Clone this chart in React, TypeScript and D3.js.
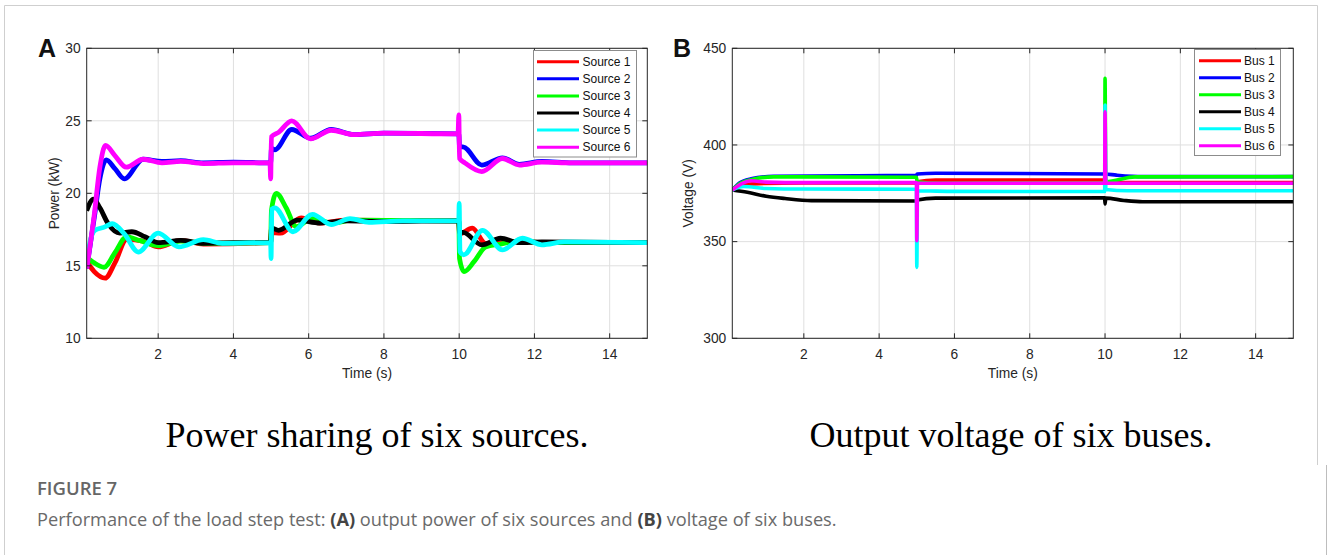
import React from 'react';
import * as d3 from 'd3';

type Pt = [number, number];

const xTicks = [2, 4, 6, 8, 10, 12, 14];
const powerTicks = [10, 15, 20, 25, 30];
const voltTicks = [300, 350, 400, 450];
const colors = ['#ff0000', '#0000ff', '#00ff00', '#000000', '#00ffff', '#ff00ff'];
const sourceNames = ['Source 1', 'Source 2', 'Source 3', 'Source 4', 'Source 5', 'Source 6'];
const busNames = ['Bus 1', 'Bus 2', 'Bus 3', 'Bus 4', 'Bus 5', 'Bus 6'];

// panel A, power (kW) vs time (s)
const source1: Pt[] = [
  [0.1, 15.3], [0.3, 14.6], [0.59, 14.15], [0.85, 15.2], [1.16, 16.8], [1.6, 16.7],
  [2.0, 16.3], [2.6, 16.75], [3.2, 16.5], [4.99, 16.6], [5.01, 17.3], [5.25, 17.25],
  [5.8, 18.3], [6.3, 17.95], [7, 18.15], [9.99, 18.1], [10.01, 17.2], [10.35, 17.6],
  [10.7, 16.55], [11.1, 16.6], [11.6, 16.7], [12.2, 16.6], [15, 16.6],
];
const source2: Pt[] = [
  [0.1, 14.8], [0.3, 18.3], [0.45, 21.0], [0.62, 22.3], [0.85, 21.7], [1.1, 21.0],
  [1.6, 22.35], [2.1, 22.2], [2.6, 22.25], [3.2, 22.1], [4, 22.15], [4.99, 22.1],
  [5.01, 23.1], [5.1, 23.0], [5.55, 24.4], [6.05, 23.8], [6.6, 24.4], [7.2, 24.05],
  [8, 24.15], [9.99, 24.1], [10.01, 23.2], [10.1, 23.2], [10.6, 21.95], [11.15, 22.45],
  [11.6, 22.0], [12.2, 22.2], [13, 22.1], [15, 22.1],
];
const source3: Pt[] = [
  [0.1, 15.6], [0.3, 15.2], [0.56, 14.9], [0.85, 15.9], [1.16, 17.0], [1.5, 16.75],
  [2.0, 16.4], [2.6, 16.7], [3.2, 16.55], [4.99, 16.6], [5.01, 18.8], [5.14, 20.0],
  [5.4, 19.0], [5.67, 17.7], [6.1, 18.3], [6.6, 17.95], [7.2, 18.15], [9.99, 18.1],
  [10.01, 15.5], [10.13, 14.6], [10.4, 15.3], [10.7, 16.3], [11.1, 16.5], [11.6, 16.7],
  [12.2, 16.6], [15, 16.6],
];
const source4: Pt[] = [
  [0.1, 18.8], [0.28, 19.6], [0.45, 19.0], [0.67, 17.9], [0.98, 17.25], [1.3, 17.35],
  [1.65, 17.0], [2.0, 16.6], [2.6, 16.75], [3.2, 16.55], [4, 16.6], [4.99, 16.6],
  [5.01, 17.6], [5.2, 17.45], [5.7, 18.15], [6.3, 17.95], [7, 18.1], [8, 18.05],
  [9.99, 18.1], [10.01, 17.3], [10.1, 17.3], [10.6, 16.45], [11.1, 16.9], [11.6, 16.6],
  [12.2, 16.65], [15, 16.6],
];
const source5: Pt[] = [
  [0.1, 15.0], [0.2, 16.8], [0.32, 17.45], [0.55, 17.65], [0.78, 17.9], [1.1, 17.2],
  [1.47, 15.95], [2.0, 17.25], [2.55, 16.3], [3.2, 16.8], [3.7, 16.55], [4.99, 16.6],
  [5.0, 15.5], [5.02, 18.9], [5.1, 19.0], [5.58, 17.35], [6.1, 18.55], [6.6, 17.85],
  [7.1, 18.25], [7.6, 18.0], [8.5, 18.1], [9.99, 18.1], [10.0, 19.3], [10.02, 16.0],
  [10.12, 15.75], [10.62, 17.45], [11.15, 16.1], [11.68, 16.9], [12.2, 16.45],
  [12.8, 16.65], [15, 16.6],
];
const source6: Pt[] = [
  [0.1, 14.8], [0.3, 18.5], [0.45, 21.8], [0.6, 23.3], [0.85, 22.6], [1.15, 21.8],
  [1.6, 22.35], [2.1, 22.1], [2.6, 22.2], [3.2, 22.05], [4, 22.1], [4.97, 22.1],
  [4.99, 21.0], [5.01, 23.9], [5.2, 24.2], [5.55, 25.0], [6.05, 23.75], [6.6, 24.35],
  [7.2, 24.05], [8, 24.15], [9.97, 24.1], [9.99, 25.4], [10.01, 22.4], [10.15, 22.1],
  [10.6, 21.5], [11.15, 22.4], [11.6, 21.95], [12.2, 22.15], [13, 22.1], [15, 22.1],
];

// panel B, bus voltage (V) vs time (s)
const bus1: Pt[] = [
  [0.1, 376.7], [0.4, 379.5], [0.8, 380.0], [2, 380.3], [4.99, 380.3], [5.01, 381.0],
  [5.5, 381.8], [9.99, 381.9], [10.01, 381.0], [10.6, 380.5], [15, 380.5],
];
const bus2: Pt[] = [
  [0.1, 376.7], [0.3, 380.5], [0.6, 382.5], [1.2, 383.8], [4.99, 384.3], [5.01, 385.0],
  [5.5, 385.4], [9.99, 385.0], [10.3, 384.4], [11, 383.6], [15, 383.6],
];
const bus3: Pt[] = [
  [0.1, 376.7], [0.3, 380], [0.7, 382.5], [1.2, 383.5], [4.99, 383.3], [5.01, 381.0],
  [5.6, 380.2], [9.99, 380.2], [10.0, 434.5], [10.02, 381.0], [10.8, 383.5], [15, 383.6],
];
const bus4: Pt[] = [
  [0.1, 376.7], [0.5, 375.5], [1.0, 373.5], [1.5, 372.3], [2.2, 371.2], [4.99, 371.0],
  [5.01, 371.5], [5.5, 372.5], [9.99, 372.7], [10.0, 369.5], [10.02, 372.5],
  [10.5, 371.3], [11, 370.6], [15, 370.6],
];
const bus5: Pt[] = [
  [0.1, 376.7], [0.4, 378.5], [1.0, 377.5], [2, 377.2], [4.99, 377.1], [5.0, 336.7],
  [5.02, 376.3], [6, 376.0], [9.99, 375.9], [10.0, 420.7], [10.02, 377], [10.6, 376.3],
  [15, 376.3],
];
const bus6: Pt[] = [
  [0.1, 376.7], [0.35, 380], [0.6, 381.5], [1.0, 380.8], [2, 380.5], [4.99, 380.5],
  [5.0, 350.5], [5.02, 380.2], [9.99, 380.2], [10.0, 417.2], [10.02, 380.2], [15, 380.2],
];

const sources = [source1, source2, source3, source4, source5, source6];
const buses = [bus1, bus2, bus3, bus4, bus5, bus6];

const AX = '#262626';
const FONT = '"Liberation Sans", Arial, Helvetica, sans-serif';
const TICK_FS = 13.8;

const Panel = ({ id, left, right, series, names, yDomain, yTicks, yLabel, letter, legend, lineW }) => {
  const top = 48.3;
  const bottom = 338.3;
  const x = d3.scaleLinear().domain([0.1, 15]).range([left, right]);
  const y = d3.scaleLinear().domain(yDomain).range([bottom, top]);
  const line = d3
    .line<Pt>()
    .x((d) => x(d[0]))
    .y((d) => y(d[1]))
    .curve(d3.curveMonotoneX);
  const tk = 5;
  const cx = (left + right) / 2;

  return (
    <g>
      <defs>
        <clipPath id={`clip-${id}`}>
          <rect x={left} y={top} width={right - left} height={bottom - top} />
        </clipPath>
      </defs>
      <rect x={left} y={top} width={right - left} height={bottom - top} fill="#fff" />
      {xTicks.map((t) => (
        <line key={'gx' + t} x1={x(t)} x2={x(t)} y1={top} y2={bottom} stroke="#dfdfdf" />
      ))}
      {yTicks.map((t) => (
        <line key={'gy' + t} x1={left} x2={right} y1={y(t)} y2={y(t)} stroke="#dfdfdf" />
      ))}
      <g clipPath={`url(#clip-${id})`}>
        {series.map((s, i) => (
          <path
            key={i}
            d={line(s)}
            fill="none"
            stroke={colors[i]}
            strokeWidth={lineW}
            strokeLinejoin="round"
          />
        ))}
      </g>
      <rect x={left} y={top} width={right - left} height={bottom - top} fill="none" stroke={AX} />
      {xTicks.map((t) => (
        <g key={'tx' + t}>
          <line x1={x(t)} x2={x(t)} y1={bottom} y2={bottom - tk} stroke={AX} />
          <line x1={x(t)} x2={x(t)} y1={top} y2={top + tk} stroke={AX} />
          <text x={x(t)} y={358.5} textAnchor="middle" fontSize={TICK_FS} fill={AX} fontFamily={FONT}>
            {t}
          </text>
        </g>
      ))}
      {yTicks.map((t) => (
        <g key={'ty' + t}>
          <line x1={left} x2={left + tk} y1={y(t)} y2={y(t)} stroke={AX} />
          <line x1={right} x2={right - tk} y1={y(t)} y2={y(t)} stroke={AX} />
          <text x={left - 6} y={y(t)} dy="0.35em" textAnchor="end" fontSize={TICK_FS} fill={AX} fontFamily={FONT}>
            {t}
          </text>
        </g>
      ))}
      <text x={cx} y={377.5} textAnchor="middle" fontSize={TICK_FS} fill={AX} fontFamily={FONT}>
        Time (s)
      </text>
      <text
        transform={`translate(${yLabel.x}, ${(top + bottom) / 2}) rotate(-90)`}
        textAnchor="middle"
        fontSize={TICK_FS}
        fill={AX}
        fontFamily={FONT}
      >
        {yLabel.text}
      </text>
      <text x={letter.x} y={57} fontSize={25} fontWeight="bold" fill="#111" fontFamily={FONT}>
        {letter.text}
      </text>
      <g>
        <rect
          x={legend.x0}
          y={legend.y0}
          width={legend.x1 - legend.x0}
          height={legend.y1 - legend.y0}
          fill="#fff"
          stroke="#8c8c8c"
        />
        {names.map((n, i) => {
          const ry = legend.rowY + i * legend.step;
          return (
            <g key={n}>
              <line x1={legend.lx0} x2={legend.lx1} y1={ry} y2={ry} stroke={colors[i]} strokeWidth={3} />
              <text x={legend.tx} y={ry} dy="0.35em" fontSize={12} fill="#111" fontFamily={FONT}>
                {n}
              </text>
            </g>
          );
        })}
      </g>
    </g>
  );
};

export default function App() {
  const W = 1328;
  const H = 555;
  return (
    <svg
      width={W}
      height={H}
      style={{ position: 'absolute', left: 0, top: 0, display: 'block', background: '#fff' }}
    >
      <rect x={0} y={0} width={W} height={H} fill="#fff" />
      <path d="M4.5,555 V5.5 H1317.5 V465" fill="none" stroke="#cfcfcf" />
      <line x1={1326.5} x2={1326.5} y1={465} y2={555} stroke="#bdbdbd" />
      <Panel
        id="a"
        left={86.7}
        right={647.3}
        series={sources}
        names={sourceNames}
        yDomain={[10, 30]}
        yTicks={powerTicks}
        yLabel={{ x: 59, text: 'Power (kW)' }}
        letter={{ x: 38, text: 'A' }}
        lineW={4.8}
        legend={{ x0: 533.5, x1: 636.5, y0: 50.5, y1: 157, rowY: 61.7, step: 17.1, lx0: 537, lx1: 579, tx: 582.5 }}
      />
      <Panel
        id="b"
        left={732.3}
        right={1293.3}
        series={buses}
        names={busNames}
        yDomain={[300, 450]}
        yTicks={voltTicks}
        yLabel={{ x: 693, text: 'Voltage (V)' }}
        letter={{ x: 673, text: 'B' }}
        lineW={3.6}
        legend={{ x0: 1194.5, x1: 1280.5, y0: 49.5, y1: 155.5, rowY: 60.7, step: 17.0, lx0: 1199, lx1: 1241, tx: 1244 }}
      />
      <text x={377} y={447} textAnchor="middle" fontSize={36} fill="#000" fontFamily='"Liberation Serif", "Times New Roman", serif'>
        Power sharing of six sources.
      </text>
      <text x={1011} y={447} textAnchor="middle" fontSize={36} fill="#000" fontFamily='"Liberation Serif", "Times New Roman", serif'>
        Output voltage of six buses.
      </text>
      <text x={37} y={494.5} fontSize={18.5} fontWeight={600} fill="#666" fontFamily='"Open Sans", sans-serif'>
        FIGURE 7
      </text>
      <text x={37} y={526} fontSize={18.2} fill="#6a6a6a" fontFamily='"Open Sans", sans-serif'>
        Performance of the load step test: <tspan fontWeight="bold" fill="#444">(A)</tspan> output power of six
        sources and <tspan fontWeight="bold" fill="#444">(B)</tspan> voltage of six buses.
      </text>
    </svg>
  );
}
